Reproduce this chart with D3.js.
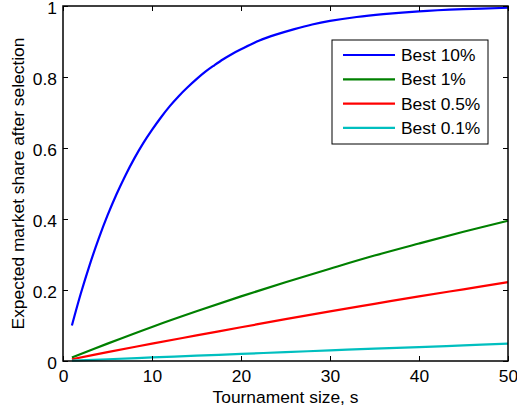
<!DOCTYPE html>
<html lang="en">
<head>
<meta charset="utf-8">
<title>Expected market share after selection</title>
<style>
   html,body { margin:0; padding:0; background:white; }
   svg { display:block; font-family:"Liberation Sans", Arial, sans-serif; }
</style>
<script src="https://d3js.org/d3.v7.min.js"></script>
</head>
<body>
<script>
// values
let sizes10 = [1,2,3,4,5,6,7,8,9,10,11,12,13,14,15,16,17,18,19,20,22,24,26,28,30,33,36,40,45,50];
let best10 = [0.100,0.190,0.271,0.344,0.410,0.469,0.522,0.570,0.613,0.651,0.686,0.718,0.746,0.771,0.794,0.815,0.833,0.850,0.865,0.878,0.902,0.920,0.935,0.948,0.958,0.969,0.977,0.985,0.991,0.995];
let sizes = [1,5,10,15,20,25,30,35,40,45,50];
let best1 = [0.010,0.049,0.096,0.140,0.182,0.222,0.260,0.297,0.331,0.364,0.395];
let best05 = [0.005,0.025,0.049,0.072,0.095,0.118,0.140,0.161,0.182,0.202,0.222];
let best01 = [0.001,0.005,0.010,0.015,0.020,0.025,0.030,0.035,0.039,0.044,0.049];
let seriesNames = ['Best 10%','Best 1%','Best 0.5%','Best 0.1%'];
let seriesColors = ['#0000ff','#008000','#ff0000','#00bfbf'];
let xTicks = [0,10,20,30,40,50];
let yTicks = [0,0.2,0.4,0.6,0.8,1];

let series = [
   {name:seriesNames[0], color:seriesColors[0], pts:sizes10.map((s,i) => [s,best10[i]])},
   {name:seriesNames[1], color:seriesColors[1], pts:sizes.map((s,i) => [s,best1[i]])},
   {name:seriesNames[2], color:seriesColors[2], pts:sizes.map((s,i) => [s,best05[i]])},
   {name:seriesNames[3], color:seriesColors[3], pts:sizes.map((s,i) => [s,best01[i]])},
];

let width = 517, height = 413;
let margin = {top:6, right:9, bottom:52, left:63};
let fs = 17.4;

let x = d3.scaleLinear().domain([0,50]).range([margin.left, width - margin.right]);
let y = d3.scaleLinear().domain([0,1]).range([height - margin.bottom, margin.top]);

const svg = d3.select('body').append('svg')
   .attr('width', width).attr('height', height);

// curves
let line = d3.line().x(d => x(d[0])).y(d => y(d[1])).curve(d3.curveCatmullRom);
svg.append('g').selectAll('path')
   .data(series)
   .join('path')
   .attr('fill','none')
   .attr('stroke', d => d.color)
   .attr('stroke-width', 2.2)
   .attr('d', d => line(d.pts));

// axes, ticks pointing inward on all four sides (matlab box)
let fmt = d => d3.format('~g')(d);
svg.append('g')
   .attr('transform', `translate(0,${y(0)})`)
   .call(d3.axisBottom(x).tickValues(xTicks).tickFormat(fmt).tickSize(-5).tickPadding(9))
   .call(g => g.select('.domain').remove());
svg.append('g')
   .attr('transform', `translate(0,${y(1)})`)
   .call(d3.axisTop(x).tickValues(xTicks).tickFormat('').tickSize(-5))
   .call(g => g.select('.domain').remove());
svg.append('g')
   .attr('class','yaxis')
   .attr('transform', `translate(${x(0)},0)`)
   .call(d3.axisLeft(y).tickValues(yTicks).tickFormat(fmt).tickSize(-5).tickPadding(6))
   .call(g => g.select('.domain').remove());
svg.append('g')
   .attr('transform', `translate(${x(50)},0)`)
   .call(d3.axisRight(y).tickValues(yTicks).tickFormat('').tickSize(-5))
   .call(g => g.select('.domain').remove());
svg.selectAll('.tick line').attr('stroke','#000');
svg.selectAll('.tick text').attr('font-size', fs).attr('fill','#000')
   .attr('font-family','"Liberation Sans", Arial, sans-serif');
svg.selectAll('.yaxis .tick text').attr('dy','0.45em');

svg.append('rect')
   .attr('x', x(0)).attr('y', y(1))
   .attr('width', x(50) - x(0)).attr('height', y(0) - y(1))
   .attr('fill','none').attr('stroke','#000').attr('stroke-width',1.5);

// axis labels
svg.append('text')
   .attr('x', (x(0) + x(50))/2).attr('y', 403)
   .attr('text-anchor','middle').attr('font-size', fs)
   .text('Tournament size, s');
svg.append('text')
   .attr('transform', `translate(24,${(y(0) + y(1))/2}) rotate(-90)`)
   .attr('text-anchor','middle').attr('font-size', fs)
   .text('Expected market share after selection');

// legend
let lg = svg.append('g').attr('transform','translate(332,40)');
lg.append('rect')
   .attr('width',156).attr('height',104)
   .attr('fill','white').attr('stroke','#000').attr('stroke-width',1);
let items = lg.selectAll('g.item')
   .data(series)
   .join('g')
   .attr('class','item')
   .attr('transform', (d,i) => `translate(0,${15 + i*24.3})`);
items.append('line')
   .attr('x1',11).attr('x2',63)
   .attr('stroke', d => d.color).attr('stroke-width',2.2);
items.append('text')
   .attr('x',69).attr('y',6)
   .attr('font-size', fs)
   .text(d => d.name);
</script>
</body>
</html>
